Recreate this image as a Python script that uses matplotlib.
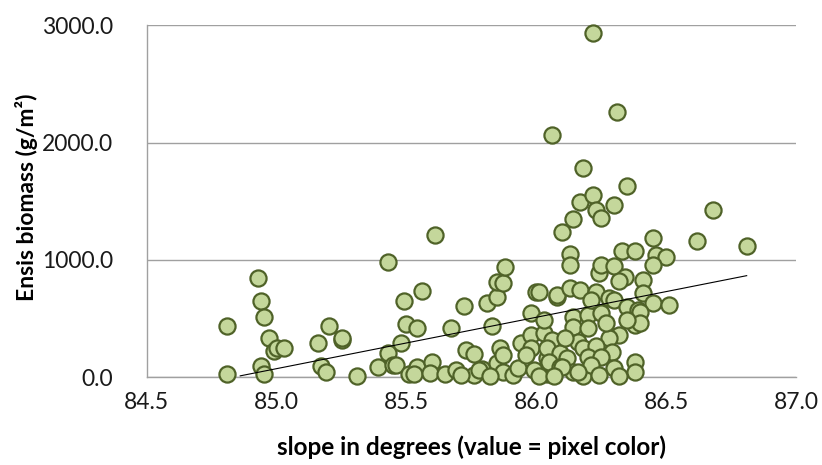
import numpy as np
import matplotlib
matplotlib.use("Agg")
import matplotlib.pyplot as plt

# Slope (degrees) and Ensis biomass (g/m2)
slope = [
    84.81, 84.81, 84.93, 84.94, 84.95, 84.97, 84.99, 85.00, 85.03, 84.94,
    84.95, 85.16, 85.20, 85.25, 85.25, 85.17, 85.19, 85.31, 85.39, 85.43,
    85.45, 85.46, 85.43, 85.49, 85.50, 85.54, 85.48, 85.51, 85.56, 85.61,
    85.54, 85.60, 85.53, 85.59, 85.65, 85.69, 85.67, 85.72, 85.73, 85.76,
    85.76, 85.79, 85.81, 85.85, 85.85, 85.87, 85.88, 85.83, 85.85, 85.86,
    85.87, 85.78, 85.91, 85.93, 85.94, 85.98, 85.98, 85.98, 86.00, 86.03,
    86.04, 85.99, 86.04, 86.06, 86.06, 86.08, 86.01, 86.08, 86.10, 86.14,
    86.13, 86.13, 86.17, 86.18, 86.22, 86.23, 86.25, 86.30, 86.35, 86.22,
    86.31, 86.13, 86.17, 86.23, 86.24, 86.25, 86.30, 86.28, 86.30, 86.34,
    86.32, 86.41, 86.33, 86.38, 86.45, 86.46, 86.50, 86.45, 86.41, 86.45,
    86.51, 86.35, 86.39, 86.14, 86.20, 86.25, 86.14, 86.20, 86.38, 86.32,
    86.28, 86.06, 86.16, 86.18, 86.23, 86.29, 86.04, 86.09, 86.12, 86.20,
    86.25, 86.05, 86.09, 86.14, 86.18, 86.30, 86.38, 86.38, 86.01, 86.18,
    86.68, 86.62, 86.81, 86.40, 86.40, 86.21, 86.10, 86.16, 86.24, 85.96,
    86.11, 86.27, 86.21, 86.35, 86.03, 85.87, 85.71, 85.82, 86.07, 86.32,
]
biomass = [
    435, 26, 845, 649, 512, 333, 222, 248, 248, 94,
    26, 290, 435, 316, 333, 94, 43, 9, 85, 205,
    102, 102, 982, 649, 452, 418, 290, 26, 734, 1212,
    85, 128, 26, 34, 26, 60, 418, 606, 230, 196,
    17, 68, 632, 683, 811, 802, 939, 435, 119, 248,
    43, 60, 17, 77, 290, 358, 248, 546, 725, 376,
    162, 60, 26, 230, 2065, 683, 725, 700, 1238, 1349,
    1050, 956, 1494, 1784, 1553, 1425, 1357, 1468, 1630, 2936,
    2262, 760, 743, 725, 888, 956, 947, 674, 657, 854,
    819, 828, 1075, 1075, 1186, 1041, 1024, 956, 717, 632,
    615, 597, 572, 512, 529, 546, 427, 418, 444, 358,
    333, 316, 299, 248, 265, 213, 248, 205, 162, 171,
    171, 128, 85, 43, 34, 77, 128, 43, 5, 5,
    1425, 1161, 1118, 555, 461, 102, 85, 43, 17, 188,
    333, 461, 657, 486, 486, 188, 17, 9, 5, 9,
]

# Linear trend line end points
trend_x = [84.86, 86.81]
trend_y = [10, 865]

x_ticks = [84.5, 85.0, 85.5, 86.0, 86.5, 87.0]
y_ticks = [0, 1000, 2000, 3000]

plt.rcParams["font.family"] = ["Lato", "DejaVu Sans"]

fig = plt.figure(figsize=(8.22, 4.65), dpi=100)
ax = fig.add_axes([0.1785, 0.1892, 0.7899, 0.756])

ax.scatter(slope, biomass, s=135, c="#C4D79B", edgecolors="#4F6228",
           linewidths=1.6, zorder=3, clip_on=False)
ax.plot(trend_x, trend_y, color="black", lw=0.8, zorder=4)

ax.set_xlim(84.5, 87.0)
ax.set_ylim(0, 3000)
ax.set_xticks(x_ticks)
ax.set_yticks(y_ticks)
ax.set_xticklabels(["%.1f" % v for v in x_ticks])
ax.set_yticklabels(["%.1f" % v for v in y_ticks])
ax.tick_params(length=0, labelsize=16.5, colors="#404040", labelcolor="#1a1a1a")
ax.tick_params(axis="x", pad=11)
ax.tick_params(axis="y", pad=24)

ax.grid(axis="y", color="#A0A0A0", lw=1)
ax.set_axisbelow(True)
for side in ["top", "right"]:
    ax.spines[side].set_visible(False)
for side in ["left", "bottom"]:
    ax.spines[side].set_color("#A0A0A0")
    ax.spines[side].set_linewidth(1)

ax.set_xlabel("slope in degrees (value = pixel color)", fontsize=17.5,
              fontweight="bold", labelpad=16)
ax.set_ylabel("Ensis biomass (g/m²)", fontsize=16.5, fontweight="bold",
              va="center")
ax.yaxis.set_label_coords(-0.185, 0.51)

plt.savefig("out.png", dpi=100)
plt.close()
